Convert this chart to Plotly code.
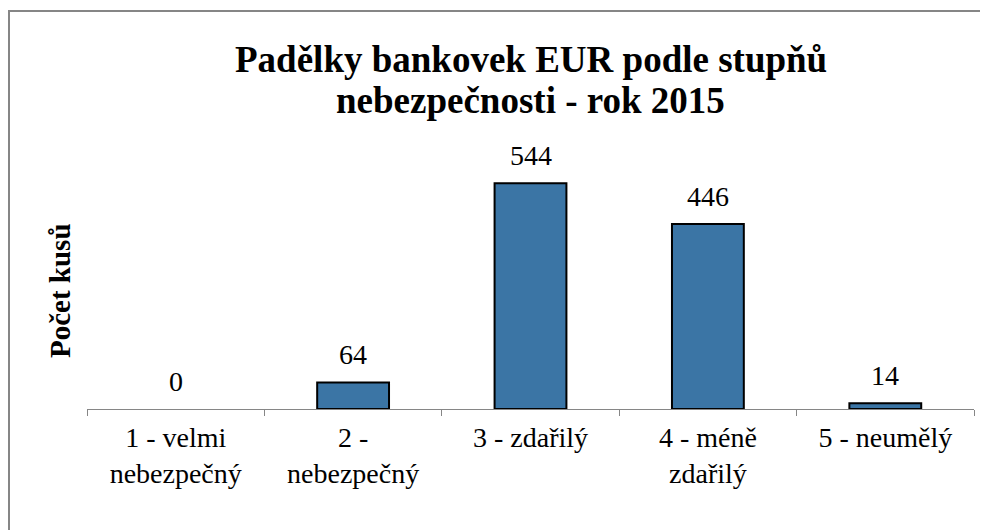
import plotly.graph_objects as go

categories = ["1 - velmi<br>nebezpečný", "2 -<br>nebezpečný", "3 - zdařilý", "4 - méně<br>zdařilý", "5 - neumělý"]
values = [0, 64, 544, 446, 14]
title_lines = ["Padělky bankovek EUR podle stupňů", "nebezpečnosti - rok 2015"]
y_title = "Počet kusů"

serif = "Times New Roman, Liberation Serif, DejaVu Serif, serif"

# figure-pixel geometry (page is offset by the 8px body margin)
L, R, T, B = 79, 22, 152, 129
W, H = 988, 530
PW, PH = W - L - R, H - T - B


def px(fx):
    return (fx - L) / PW


def py(fy):
    return (H - B - fy) / PH


fig = go.Figure(go.Bar(
    x=categories, y=values,
    marker=dict(color="#3b75a5",
                line=dict(color="black", width=[0 if v == 0 else 2 for v in values])),
    cliponaxis=False,
))

label_annotations = [
    dict(text=str(v), x=c, y=v, xref="x", yref="y", showarrow=False,
         xanchor="center", yanchor="bottom", yshift=10,
         font=dict(family=serif, size=28, color="black"))
    for c, v in zip(categories, values)
]

fig.update_layout(
    width=W, height=H,
    margin=dict(l=L, r=R, t=T, b=B),
    paper_bgcolor="white", plot_bgcolor="white",
    bargap=0.595,
    showlegend=False,
    font=dict(family=serif, color="black"),
    xaxis=dict(showline=True, linecolor="#868686", linewidth=1,
               ticks="outside", tickson="boundaries", ticklen=6, tickcolor="#868686",
               ticklabelstandoff=3,
               tickfont=dict(family=serif, size=28, color="black"), automargin=False),
    yaxis=dict(range=[0, 600], visible=False),
    annotations=label_annotations + [
        dict(text="<b>" + title_lines[0] + "</b>", xref="paper", yref="paper",
             x=0.5, y=py(51), xanchor="center", yanchor="middle", showarrow=False,
             font=dict(family=serif, size=37, color="black")),
        dict(text="<b>" + title_lines[1] + "</b>", xref="paper", yref="paper",
             x=0.5, y=py(93), xanchor="center", yanchor="middle", showarrow=False,
             font=dict(family=serif, size=37, color="black")),
        dict(text="<b>" + y_title + "</b>", xref="paper", yref="paper",
             x=px(52), y=py(283), textangle=-90,
             xanchor="center", yanchor="middle", showarrow=False,
             font=dict(family=serif, size=29, color="black")),
    ],
    shapes=[dict(type="rect", xref="paper", yref="paper",
                 x0=px(1), x1=px(1000), y0=py(560), y1=py(3),
                 line=dict(color="#868686", width=2), layer="below")],
)

fig.write_html("out.html")
